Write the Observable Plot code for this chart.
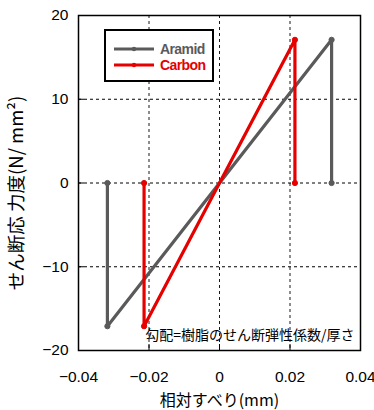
<!DOCTYPE html>
<html><head><meta charset="utf-8">
<script src="https://cdn.jsdelivr.net/npm/d3@7"></script>
<script src="https://cdn.jsdelivr.net/npm/@observablehq/plot@0.6"></script>
<style>
body{margin:0;background:#fff;}
#wrap{position:relative;width:374px;height:410px;overflow:hidden;}
#legend{position:absolute;left:104px;top:29px;width:106px;height:49px;border:2px solid #000;background:#fff;box-sizing:content-box;font-family:"Liberation Sans",Arial,sans-serif;font-weight:bold;font-size:14px;letter-spacing:-0.6px;}
#legend .row{position:absolute;left:8px;height:16px;display:flex;align-items:center;}
#legend svg{margin-right:6px;}
</style></head><body><div id="wrap"></div>
<script>
const seriesNames = ["Aramid", "Carbon"];
const seriesColors = ["#5a5a5a", "#e60000"];
const aramidX = [-0.0318, -0.0318, 0.0318, 0.0318];
const aramidY = [0, -17.1, 17.1, 0];
const carbonX = [-0.0214, -0.0214, 0.0214, 0.0214];
const carbonY = [0, -17.1, 17.1, 0];
const xTicks = [-0.04, -0.02, 0, 0.02, 0.04];
const yTicks = [-20, -10, 0, 10, 20];
const annotation = "勾配=樹脂のせん断弾性係数/厚さ";
const xLabel = "相対すべり(mm)";
const yLabel = "せん断応 力度(N/ mm²)";

const rows = [];
aramidX.forEach((x, i) => rows.push({series: "Aramid", x, y: aramidY[i]}));
carbonX.forEach((x, i) => rows.push({series: "Carbon", x, y: carbonY[i]}));

const fmt = d => d === 0 ? "0" : (d < 0 ? "\u2212" : "") + String(Math.abs(d));

const chart = Plot.plot({
  width: 374, height: 410,
  marginLeft: 78, marginRight: 14, marginTop: 15, marginBottom: 60,
  style: {fontFamily: "'Liberation Sans', Arial, sans-serif", fontSize: "15px", color: "#000", background: "#fff"},
  x: {domain: [-0.04, 0.04]},
  y: {domain: [-20, 20]},
  color: {domain: seriesNames, range: seriesColors},
  marks: [
    Plot.gridX(xTicks, {stroke: "#000", strokeOpacity: 0.9, strokeDasharray: "3,3", strokeWidth: 1}),
    Plot.gridY(yTicks, {stroke: "#000", strokeOpacity: 1, strokeDasharray: "3,3", strokeWidth: 1}),
    Plot.axisX(xTicks, {tickSize: 0, tickPadding: 20, tickFormat: fmt, fontSize: 15.5, label: null}),
    Plot.axisX(xTicks, {tickSize: -6, text: null, label: null}),
    Plot.axisY(yTicks, {tickSize: 0, tickPadding: 10, tickFormat: fmt, fontSize: 15.5, label: null}),
    Plot.axisY(yTicks, {tickSize: -6, text: null, label: null}),
    Plot.text([xLabel], {frameAnchor: "bottom", dy: 55, fontFamily: "'Noto Sans CJK JP', sans-serif", fontSize: 16, letterSpacing: -0.8}),
    Plot.text([yLabel], {frameAnchor: "left", textAnchor: "middle", dx: -61, dy: 10, rotate: -90, fontFamily: "'Noto Sans CJK JP', sans-serif", fontSize: 18.5, letterSpacing: 4.6}),
    Plot.text([annotation], {frameAnchor: "bottom-right", dx: -6, dy: -11, textAnchor: "end", fontFamily: "'Noto Sans CJK JP', sans-serif", fontSize: 14, letterSpacing: -0.6, fill: "#000"}),
    Plot.line(rows, {x: "x", y: "y", z: "series", stroke: "series", strokeWidth: 3.2, strokeLinejoin: "round"}),
    Plot.dot(rows, {x: "x", y: "y", fill: "series", stroke: "series", r: 2.6, strokeWidth: 1}),
    Plot.frame({stroke: "#000", strokeWidth: 1.5})
  ]
});
const wrap = document.getElementById("wrap");
wrap.appendChild(chart);

const legend = document.createElement("div");
legend.id = "legend";
seriesNames.forEach((name, i) => {
  const row = document.createElement("div");
  row.className = "row";
  row.style.top = (10 + i * 16) + "px";
  row.innerHTML = `<svg width="40" height="8"><line x1="0" y1="4" x2="40" y2="4" stroke="${seriesColors[i]}" stroke-width="3.2"/><circle cx="20" cy="4" r="2.2" fill="${seriesColors[i]}"/></svg><span style="color:${seriesColors[i]}">${name}</span>`;
  legend.appendChild(row);
});
wrap.appendChild(legend);
</script></body></html>
